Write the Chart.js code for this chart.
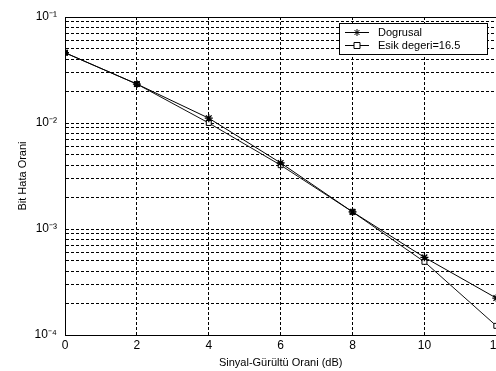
<!DOCTYPE html>
<html>
<head>
<meta charset="utf-8">
<script src="https://cdn.jsdelivr.net/npm/chart.js@4/dist/chart.umd.min.js"></script>
<style>
  html, body { margin: 0; padding: 0; background: #fff; overflow: hidden; }
  #wrap { width: 496px; height: 371px; overflow: hidden; position: relative; background: #fff; }
  #inner { width: 506px; height: 371px; }
</style>
</head>
<body>
<div id="wrap"><div id="inner"><canvas id="c"></canvas></div></div>
<script>
// Signal-to-noise ratio (dB) and bit error rates for the two receivers
const snr = [0, 2, 4, 6, 8, 10, 12];
const dogrusal = [0.046, 0.0233, 0.0111, 0.0042, 0.00145, 0.00054, 0.000223];
const esik = [0.046, 0.0233, 0.0100, 0.0040, 0.00145, 0.00049, 0.000122];
const seriesNames = ['Dogrusal', 'Esik degeri=16.5'];
const xTicks = [0, 2, 4, 6, 8, 10, 12];
const yDecades = [-4, -3, -2, -1];

const SUP = { '-': '\u207B', '0': '\u2070', '1': '\u00B9', '2': '\u00B2', '3': '\u00B3', '4': '\u2074' };
const supText = s => String(s).split('').map(ch => SUP[ch] || ch).join('');

// log grid: 1..9 x 10^e for each decade, topped by the last power of ten
const yTicks = [];
for (let i = 0; i < yDecades.length - 1; i++) {
  for (let m = 1; m <= 9; m++) yTicks.push(+(m * Math.pow(10, yDecades[i])).toPrecision(3));
}
yTicks.push(Math.pow(10, yDecades[yDecades.length - 1]));
const isDecade = v => Math.abs(Math.log10(v) - Math.round(Math.log10(v))) < 1e-9;

const FONT = 'Liberation Sans, Arial, sans-serif';

function drawMarker(ctx, style, x, y, r) {
  ctx.save();
  ctx.strokeStyle = '#000';
  ctx.lineWidth = 1;
  ctx.setLineDash([]);
  ctx.beginPath();
  if (style === 'star') {
    const d = r * Math.SQRT1_2;
    ctx.moveTo(x - r, y); ctx.lineTo(x + r, y);
    ctx.moveTo(x, y - r); ctx.lineTo(x, y + r);
    ctx.moveTo(x - d, y - d); ctx.lineTo(x + d, y + d);
    ctx.moveTo(x - d, y + d); ctx.lineTo(x + d, y - d);
    ctx.stroke();
  } else {
    ctx.fillStyle = '#fff';
    ctx.rect(x - r + 0.5, y - r + 0.5, 2 * r - 1, 2 * r - 1);
    ctx.fill();
    ctx.stroke();
  }
  ctx.restore();
}

const frameAndLegend = {
  id: 'frameAndLegend',
  afterDraw(chart) {
    const { ctx, chartArea: a } = chart;
    ctx.save();
    ctx.strokeStyle = '#000';
    ctx.lineWidth = 1;
    ctx.setLineDash([]);
    ctx.strokeRect(Math.round(a.left) + 0.5, Math.round(a.top) + 0.5,
                   Math.round(a.right - a.left), Math.round(a.bottom - a.top));

    // legend box in the upper right corner
    const bx = 339, by = 23, bw = 148, bh = 31;
    ctx.fillStyle = '#fff';
    ctx.fillRect(bx, by, bw, bh);
    ctx.strokeRect(bx + 0.5, by + 0.5, bw, bh);
    ctx.font = '11px ' + FONT;
    ctx.fillStyle = '#000';
    ctx.textBaseline = 'middle';
    chart.data.datasets.forEach((ds, i) => {
      const y = by + 9 + i * 13;
      ctx.beginPath();
      ctx.moveTo(345, y + 0.5);
      ctx.lineTo(369, y + 0.5);
      ctx.stroke();
      drawMarker(ctx, ds.pointStyle, 357, y + 0.5, 3.5);
      ctx.fillText(ds.label, 378, y + 1);
    });
    ctx.restore();
  }
};

new Chart(document.getElementById('c'), {
  type: 'line',
  data: {
    datasets: [
      {
        label: seriesNames[0],
        data: snr.map((x, i) => ({ x, y: dogrusal[i] })),
        borderColor: '#000', borderWidth: 1,
        pointStyle: 'star', pointRadius: 4, pointBorderColor: '#000', pointBorderWidth: 1.3,
        pointBackgroundColor: '#000', tension: 0
      },
      {
        label: seriesNames[1],
        data: snr.map((x, i) => ({ x, y: esik[i] })),
        borderColor: '#111', borderWidth: 1,
        pointStyle: 'rect', pointRadius: 3.5, pointBorderColor: '#000', pointBorderWidth: 1,
        pointBackgroundColor: '#fff', tension: 0
      }
    ]
  },
  options: {
    responsive: true,
    maintainAspectRatio: false,
    animation: false,
    layout: { padding: { top: 17, right: 9, left: 0, bottom: 0 } },
    plugins: { legend: { display: false }, tooltip: { enabled: false } },
    scales: {
      x: {
        type: 'linear', min: 0, max: 12,
        afterBuildTicks: s => { s.ticks = xTicks.map(v => ({ value: v })); },
        afterFit: s => { s.height = 36; },
        ticks: { color: '#000', font: { family: FONT, size: 12 }, padding: 3, maxRotation: 0, autoSkip: false },
        grid: { color: '#000', lineWidth: 1, drawTicks: false },
        border: { display: true, color: '#000', width: 1, dash: [3, 2] },
        title: { display: true, text: 'Sinyal-Gürültü Orani (dB)', color: '#000',
                 font: { family: FONT, size: 11 }, padding: { top: 0, bottom: 1 } }
      },
      y: {
        type: 'logarithmic', min: 1e-4, max: 0.1,
        afterBuildTicks: s => { s.ticks = yTicks.map(v => ({ value: v })); },
        afterFit: s => { s.width = 65; },
        ticks: {
          color: '#000', font: { family: FONT, size: 12 }, padding: 8, autoSkip: false,
          callback: v => isDecade(v) ? '10' + supText(Math.round(Math.log10(v))) : ''
        },
        grid: { color: '#000', lineWidth: 1, drawTicks: false },
        border: { display: true, color: '#000', width: 1, dash: [3, 2] },
        title: { display: true, text: 'Bit Hata Orani', color: '#000',
                 font: { family: FONT, size: 11 }, padding: { top: 16, bottom: 4 } }
      }
    }
  },
  plugins: [frameAndLegend]
});
</script>
</body>
</html>
